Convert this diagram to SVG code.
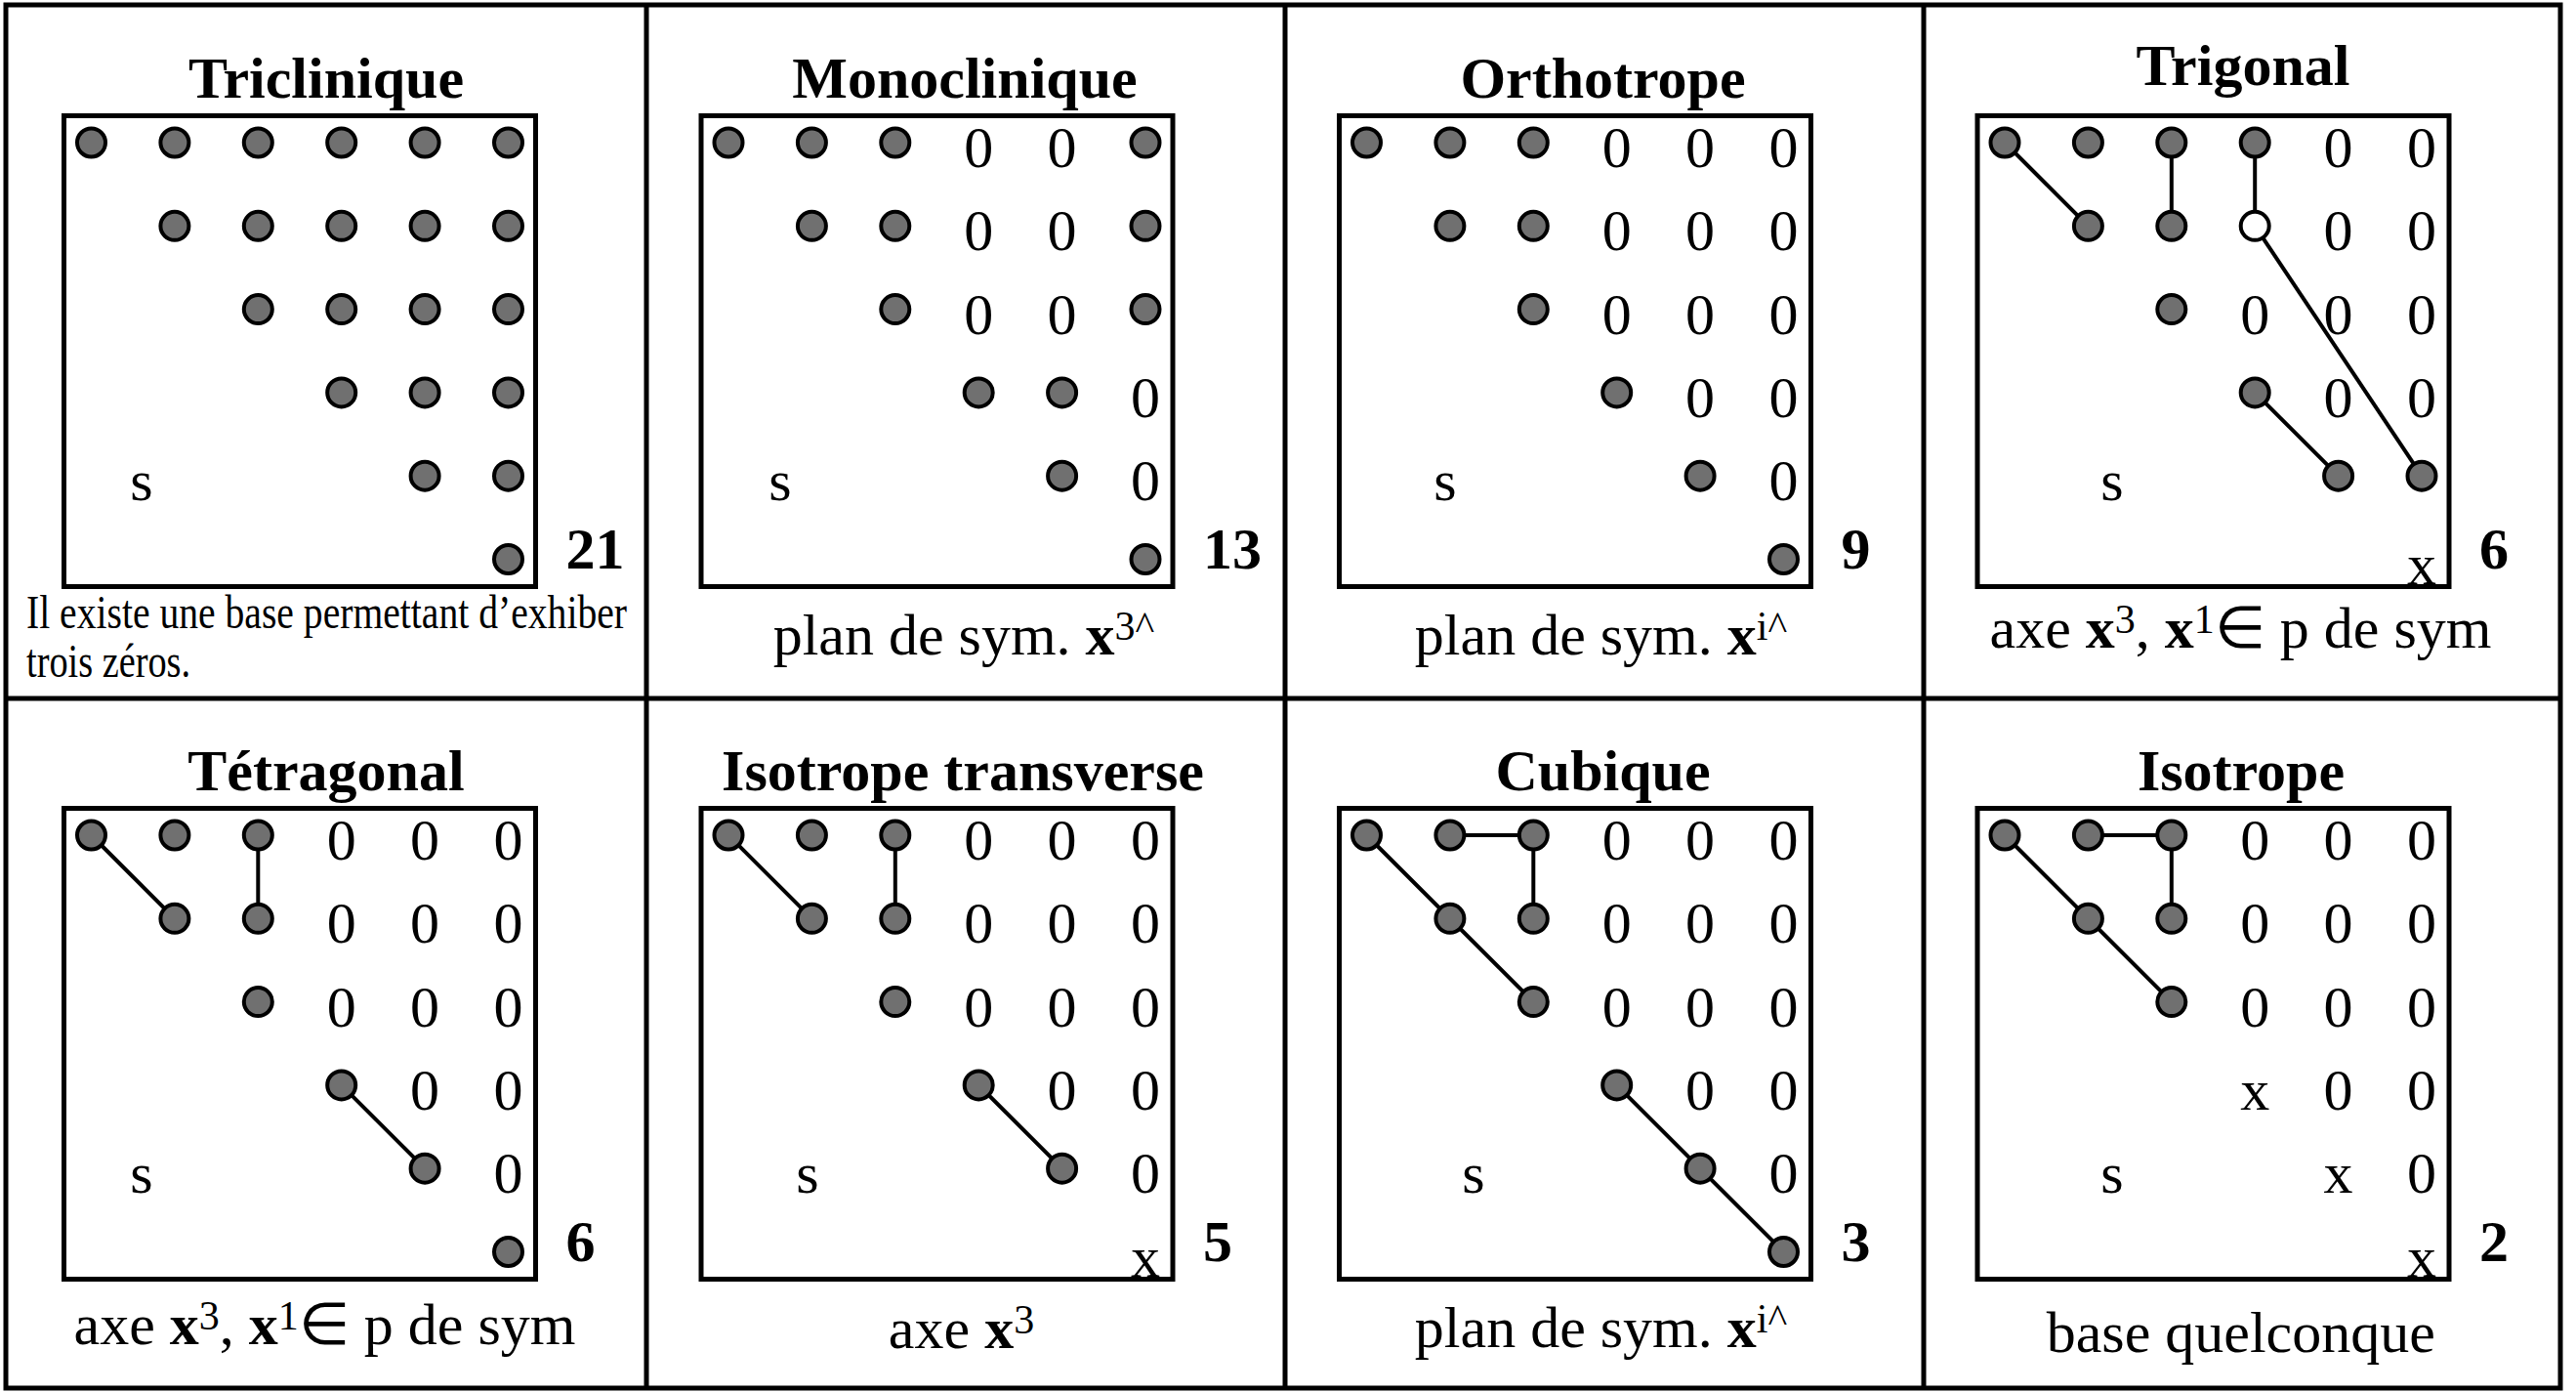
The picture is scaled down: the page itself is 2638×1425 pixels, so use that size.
<svg xmlns="http://www.w3.org/2000/svg" width="2638" height="1425" viewBox="0 0 2638 1425">
<style>
.frame{fill:none;stroke:#000;stroke-width:5}
.box{fill:none;stroke:#000;stroke-width:5}
.dot{fill:#707070;stroke:#000;stroke-width:4}
.open{fill:#fff;stroke:#000;stroke-width:4}
.ln{stroke:#000;stroke-width:4;fill:none}
text{font-family:"Liberation Serif","Times New Roman",serif;fill:#000}
.z{font-size:60px;text-anchor:middle}
.t{font-size:60px;font-weight:bold;text-anchor:middle}
.n{font-size:60px;font-weight:bold}
.c{font-size:60px;text-anchor:middle}
.b{font-weight:bold}
.sup{font-size:42px}
.note{font-size:48px}
</style>
<defs>
<circle id="d" class="dot" cx="0" cy="0" r="14.5"/>
</defs>
<rect width="2638" height="1425" fill="#fff"/>
<g id="grid">
<rect class="frame" x="6" y="5" width="2616" height="1416"/>
<line class="frame" x1="662" y1="5" x2="662" y2="1421"/>
<line class="frame" x1="1316" y1="5" x2="1316" y2="1421"/>
<line class="frame" x1="1970" y1="5" x2="1970" y2="1421"/>
<line class="frame" x1="6" y1="715" x2="2622" y2="715"/>
</g>
<g id="connectors">
<g transform="translate(2025,118.5)">
<line class="ln" x1="28" y1="27.5" x2="113.4" y2="112.8"/>
<line class="ln" x1="198.8" y1="27.5" x2="198.8" y2="112.8"/>
<line class="ln" x1="284.2" y1="27.5" x2="284.2" y2="112.8"/>
<line class="ln" x1="284.2" y1="112.8" x2="455" y2="368.7"/>
<line class="ln" x1="284.2" y1="283.4" x2="369.6" y2="368.7"/>
</g>
<g transform="translate(65.5,827.5)">
<line class="ln" x1="28" y1="27.5" x2="113.4" y2="112.8"/>
<line class="ln" x1="198.8" y1="27.5" x2="198.8" y2="112.8"/>
<line class="ln" x1="284.2" y1="283.4" x2="369.6" y2="368.7"/>
</g>
<g transform="translate(718,827.5)">
<line class="ln" x1="28" y1="27.5" x2="113.4" y2="112.8"/>
<line class="ln" x1="198.8" y1="27.5" x2="198.8" y2="112.8"/>
<line class="ln" x1="284.2" y1="283.4" x2="369.6" y2="368.7"/>
</g>
<g transform="translate(1371.5,827.5)">
<line class="ln" x1="28" y1="27.5" x2="198.8" y2="198.1"/>
<line class="ln" x1="113.4" y1="27.5" x2="198.8" y2="27.5"/>
<line class="ln" x1="198.8" y1="27.5" x2="198.8" y2="112.8"/>
<line class="ln" x1="284.2" y1="283.4" x2="455" y2="454"/>
</g>
<g transform="translate(2025,827.5)">
<line class="ln" x1="28" y1="27.5" x2="198.8" y2="198.1"/>
<line class="ln" x1="113.4" y1="27.5" x2="198.8" y2="27.5"/>
<line class="ln" x1="198.8" y1="27.5" x2="198.8" y2="112.8"/>
</g>
</g>

<g id="triclinique" transform="translate(65.5,118.5)">
<text class="t" x="268.5" y="-18.5">Triclinique</text>
<rect class="box" x="0" y="0" width="483" height="482"/>
<use href="#d" x="28" y="27.5"/><use href="#d" x="113.4" y="27.5"/><use href="#d" x="198.8" y="27.5"/><use href="#d" x="284.2" y="27.5"/><use href="#d" x="369.6" y="27.5"/><use href="#d" x="455" y="27.5"/>
<use href="#d" x="113.4" y="112.8"/><use href="#d" x="198.8" y="112.8"/><use href="#d" x="284.2" y="112.8"/><use href="#d" x="369.6" y="112.8"/><use href="#d" x="455" y="112.8"/>
<use href="#d" x="198.8" y="198.1"/><use href="#d" x="284.2" y="198.1"/><use href="#d" x="369.6" y="198.1"/><use href="#d" x="455" y="198.1"/>
<use href="#d" x="284.2" y="283.4"/><use href="#d" x="369.6" y="283.4"/><use href="#d" x="455" y="283.4"/>
<use href="#d" x="369.6" y="368.7"/><use href="#d" x="455" y="368.7"/>
<use href="#d" x="455" y="454"/>
<text class="z" x="79.5" y="393">s</text>
<text class="n" x="514" y="463">21</text>
<text class="note" x="-38.5" y="524.5" textLength="615" lengthAdjust="spacingAndGlyphs">Il existe une base permettant d’exhiber</text>
<text class="note" x="-38.5" y="574" textLength="168" lengthAdjust="spacingAndGlyphs">trois zéros.</text>
</g>

<g id="monoclinique" transform="translate(718,118.5)">
<text class="t" x="270" y="-18.5">Monoclinique</text>
<rect class="box" x="0" y="0" width="483" height="482"/>
<use href="#d" x="28" y="27.5"/><use href="#d" x="113.4" y="27.5"/><use href="#d" x="198.8" y="27.5"/><use href="#d" x="455" y="27.5"/>
<use href="#d" x="113.4" y="112.8"/><use href="#d" x="198.8" y="112.8"/><use href="#d" x="455" y="112.8"/>
<use href="#d" x="198.8" y="198.1"/><use href="#d" x="455" y="198.1"/>
<use href="#d" x="284.2" y="283.4"/><use href="#d" x="369.6" y="283.4"/>
<use href="#d" x="369.6" y="368.7"/>
<use href="#d" x="455" y="454"/>
<text class="z" x="284.2" y="52.5">0</text><text class="z" x="369.6" y="52.5">0</text>
<text class="z" x="284.2" y="137.8">0</text><text class="z" x="369.6" y="137.8">0</text>
<text class="z" x="284.2" y="223.1">0</text><text class="z" x="369.6" y="223.1">0</text>
<text class="z" x="455" y="308.4">0</text>
<text class="z" x="455" y="393.7">0</text>
<text class="z" x="81" y="393">s</text>
<text class="n" x="514" y="463">13</text>
<text class="c" x="269" y="551.5">plan de sym. <tspan class="b">x</tspan><tspan class="sup" dy="-15">3^</tspan></text>
</g>

<g id="orthotrope" transform="translate(1371.5,118.5)">
<text class="t" x="270" y="-18.5">Orthotrope</text>
<rect class="box" x="0" y="0" width="483" height="482"/>
<use href="#d" x="28" y="27.5"/><use href="#d" x="113.4" y="27.5"/><use href="#d" x="198.8" y="27.5"/>
<use href="#d" x="113.4" y="112.8"/><use href="#d" x="198.8" y="112.8"/>
<use href="#d" x="198.8" y="198.1"/>
<use href="#d" x="284.2" y="283.4"/>
<use href="#d" x="369.6" y="368.7"/>
<use href="#d" x="455" y="454"/>
<text class="z" x="284.2" y="52.5">0</text><text class="z" x="369.6" y="52.5">0</text><text class="z" x="455" y="52.5">0</text>
<text class="z" x="284.2" y="137.8">0</text><text class="z" x="369.6" y="137.8">0</text><text class="z" x="455" y="137.8">0</text>
<text class="z" x="284.2" y="223.1">0</text><text class="z" x="369.6" y="223.1">0</text><text class="z" x="455" y="223.1">0</text>
<text class="z" x="369.6" y="308.4">0</text><text class="z" x="455" y="308.4">0</text>
<text class="z" x="455" y="393.7">0</text>
<text class="z" x="108.5" y="393">s</text>
<text class="n" x="514" y="463">9</text>
<text class="c" x="268" y="551.5">plan de sym. <tspan class="b">x</tspan><tspan class="sup" dy="-15">i^</tspan></text>
</g>

<g id="trigonal" transform="translate(2025,118.5)">
<text class="t" x="272" y="-31.5">Trigonal</text>
<rect class="box" x="0" y="0" width="483" height="482"/>
<use href="#d" x="28" y="27.5"/><use href="#d" x="113.4" y="27.5"/><use href="#d" x="198.8" y="27.5"/><use href="#d" x="284.2" y="27.5"/>
<use href="#d" x="113.4" y="112.8"/><use href="#d" x="198.8" y="112.8"/>
<circle class="open" cx="284.2" cy="112.8" r="14.5"/>
<use href="#d" x="198.8" y="198.1"/>
<use href="#d" x="284.2" y="283.4"/>
<use href="#d" x="369.6" y="368.7"/><use href="#d" x="455" y="368.7"/>
<text class="z" x="369.6" y="52.5">0</text><text class="z" x="455" y="52.5">0</text>
<text class="z" x="369.6" y="137.8">0</text><text class="z" x="455" y="137.8">0</text>
<text class="z" x="284.2" y="223.1">0</text><text class="z" x="369.6" y="223.1">0</text><text class="z" x="455" y="223.1">0</text>
<text class="z" x="369.6" y="308.4">0</text><text class="z" x="455" y="308.4">0</text>
<text class="z" x="455" y="479">x</text>
<text class="z" x="138" y="393">s</text>
<text class="n" x="514" y="463">6</text>
<text class="c" x="269.5" y="544.5">axe <tspan class="b">x</tspan><tspan class="sup" dy="-15">3</tspan><tspan dy="15">, </tspan><tspan class="b">x</tspan><tspan class="sup" dy="-15">1</tspan><tspan dy="15">∈ p de sym</tspan></text>
</g>

<g id="tetragonal" transform="translate(65.5,827.5)">
<text class="t" x="268.5" y="-18.5">Tétragonal</text>
<rect class="box" x="0" y="0" width="483" height="482"/>
<use href="#d" x="28" y="27.5"/><use href="#d" x="113.4" y="27.5"/><use href="#d" x="198.8" y="27.5"/>
<use href="#d" x="113.4" y="112.8"/><use href="#d" x="198.8" y="112.8"/>
<use href="#d" x="198.8" y="198.1"/>
<use href="#d" x="284.2" y="283.4"/>
<use href="#d" x="369.6" y="368.7"/>
<use href="#d" x="455" y="454"/>
<text class="z" x="284.2" y="52.5">0</text><text class="z" x="369.6" y="52.5">0</text><text class="z" x="455" y="52.5">0</text>
<text class="z" x="284.2" y="137.8">0</text><text class="z" x="369.6" y="137.8">0</text><text class="z" x="455" y="137.8">0</text>
<text class="z" x="284.2" y="223.1">0</text><text class="z" x="369.6" y="223.1">0</text><text class="z" x="455" y="223.1">0</text>
<text class="z" x="369.6" y="308.4">0</text><text class="z" x="455" y="308.4">0</text>
<text class="z" x="455" y="393.7">0</text>
<text class="z" x="79.5" y="393">s</text>
<text class="n" x="514" y="463">6</text>
<text class="c" x="267" y="548.5">axe <tspan class="b">x</tspan><tspan class="sup" dy="-15">3</tspan><tspan dy="15">, </tspan><tspan class="b">x</tspan><tspan class="sup" dy="-15">1</tspan><tspan dy="15">∈ p de sym</tspan></text>
</g>

<g id="isotrope-transverse" transform="translate(718,827.5)">
<text class="t" x="268" y="-18.5">Isotrope transverse</text>
<rect class="box" x="0" y="0" width="483" height="482"/>
<use href="#d" x="28" y="27.5"/><use href="#d" x="113.4" y="27.5"/><use href="#d" x="198.8" y="27.5"/>
<use href="#d" x="113.4" y="112.8"/><use href="#d" x="198.8" y="112.8"/>
<use href="#d" x="198.8" y="198.1"/>
<use href="#d" x="284.2" y="283.4"/>
<use href="#d" x="369.6" y="368.7"/>
<text class="z" x="284.2" y="52.5">0</text><text class="z" x="369.6" y="52.5">0</text><text class="z" x="455" y="52.5">0</text>
<text class="z" x="284.2" y="137.8">0</text><text class="z" x="369.6" y="137.8">0</text><text class="z" x="455" y="137.8">0</text>
<text class="z" x="284.2" y="223.1">0</text><text class="z" x="369.6" y="223.1">0</text><text class="z" x="455" y="223.1">0</text>
<text class="z" x="369.6" y="308.4">0</text><text class="z" x="455" y="308.4">0</text>
<text class="z" x="455" y="393.7">0</text>
<text class="z" x="455" y="479">x</text>
<text class="z" x="109" y="393">s</text>
<text class="n" x="514" y="463">5</text>
<text class="c" x="266.5" y="552.5">axe <tspan class="b">x</tspan><tspan class="sup" dy="-15">3</tspan></text>
</g>

<g id="cubique" transform="translate(1371.5,827.5)">
<text class="t" x="270" y="-18.5">Cubique</text>
<rect class="box" x="0" y="0" width="483" height="482"/>
<use href="#d" x="28" y="27.5"/><use href="#d" x="113.4" y="27.5"/><use href="#d" x="198.8" y="27.5"/>
<use href="#d" x="113.4" y="112.8"/><use href="#d" x="198.8" y="112.8"/>
<use href="#d" x="198.8" y="198.1"/>
<use href="#d" x="284.2" y="283.4"/>
<use href="#d" x="369.6" y="368.7"/>
<use href="#d" x="455" y="454"/>
<text class="z" x="284.2" y="52.5">0</text><text class="z" x="369.6" y="52.5">0</text><text class="z" x="455" y="52.5">0</text>
<text class="z" x="284.2" y="137.8">0</text><text class="z" x="369.6" y="137.8">0</text><text class="z" x="455" y="137.8">0</text>
<text class="z" x="284.2" y="223.1">0</text><text class="z" x="369.6" y="223.1">0</text><text class="z" x="455" y="223.1">0</text>
<text class="z" x="369.6" y="308.4">0</text><text class="z" x="455" y="308.4">0</text>
<text class="z" x="455" y="393.7">0</text>
<text class="z" x="137.5" y="393">s</text>
<text class="n" x="514" y="463">3</text>
<text class="c" x="268" y="551.5">plan de sym. <tspan class="b">x</tspan><tspan class="sup" dy="-15">i^</tspan></text>
</g>

<g id="isotrope" transform="translate(2025,827.5)">
<text class="t" x="270" y="-18.5">Isotrope</text>
<rect class="box" x="0" y="0" width="483" height="482"/>
<use href="#d" x="28" y="27.5"/><use href="#d" x="113.4" y="27.5"/><use href="#d" x="198.8" y="27.5"/>
<use href="#d" x="113.4" y="112.8"/><use href="#d" x="198.8" y="112.8"/>
<use href="#d" x="198.8" y="198.1"/>
<text class="z" x="284.2" y="52.5">0</text><text class="z" x="369.6" y="52.5">0</text><text class="z" x="455" y="52.5">0</text>
<text class="z" x="284.2" y="137.8">0</text><text class="z" x="369.6" y="137.8">0</text><text class="z" x="455" y="137.8">0</text>
<text class="z" x="284.2" y="223.1">0</text><text class="z" x="369.6" y="223.1">0</text><text class="z" x="455" y="223.1">0</text>
<text class="z" x="284.2" y="308.4">x</text><text class="z" x="369.6" y="308.4">0</text><text class="z" x="455" y="308.4">0</text>
<text class="z" x="369.6" y="393.7">x</text><text class="z" x="455" y="393.7">0</text>
<text class="z" x="455" y="479">x</text>
<text class="z" x="138" y="393">s</text>
<text class="n" x="514" y="463">2</text>
<text class="c" x="269.75" y="556">base quelconque</text>
</g>
</svg>
